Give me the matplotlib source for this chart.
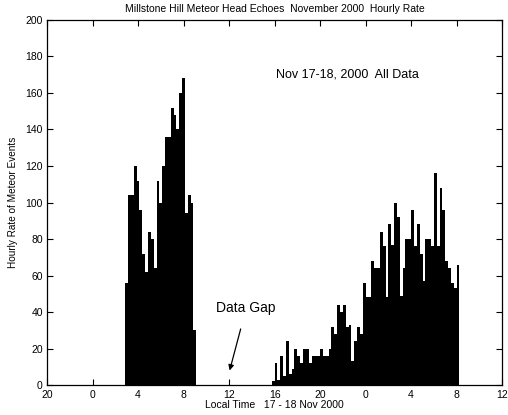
import matplotlib
matplotlib.use("Agg")
import matplotlib.pyplot as plt
import numpy as np

plt.rcParams['font.family'] = ['Liberation Sans', 'DejaVu Sans']

# hours from midnight Nov 17 local time, 15 minute steps
bin_width = 0.25
start_morning = 2.875
rate_morning = [56, 104, 104, 120, 112, 96, 72, 62, 84, 80, 64, 112, 100,
                120, 136, 136, 152, 148, 140, 160, 168, 94, 104, 100, 30]

start_evening = 15.75
rate_evening = [2, 12, 3, 16, 5, 24, 6, 9, 20, 16, 12, 20, 20, 12, 16, 16,
                16, 20, 16, 16, 20, 32, 28, 44, 40, 44, 32, 33, 13, 24, 32,
                28, 56, 48, 48, 68, 64, 64, 84, 76, 48, 88, 77, 100, 92, 49,
                64, 80, 80, 96, 76, 88, 72, 57, 80, 80, 76, 116, 76, 108, 96,
                68, 64, 56, 53, 66]

x_ticks = np.arange(-4, 37, 4)
x_labels = [str(int(h) % 24) for h in x_ticks]

fig = plt.figure(figsize=(5.08, 4.15), dpi=100)
ax = fig.add_axes([0.0925, 0.072, 0.896, 0.88])

t1 = start_morning + bin_width * np.arange(len(rate_morning))
t2 = start_evening + bin_width * np.arange(len(rate_evening))
ax.bar(t1, rate_morning, width=bin_width, align='edge', color='black', linewidth=0)
ax.bar(t2, rate_evening, width=bin_width, align='edge', color='black', linewidth=0)

ax.set_xlim(-4, 36)
ax.set_ylim(0, 200)
ax.set_xticks(x_ticks)
ax.set_xticklabels(x_labels)
ax.set_yticks(np.arange(0, 201, 20))
ax.tick_params(direction='in', top=True, right=True, length=4, width=0.8,
               labelsize=7.5)
ax.tick_params(axis='x', pad=3.5)
ax.tick_params(axis='y', pad=3)
for s in ax.spines.values():
    s.set_linewidth(0.9)

ax.set_title("Millstone Hill Meteor Head Echoes  November 2000  Hourly Rate",
             fontsize=7.5, pad=6)
ax.set_xlabel("Local Time   17 - 18 Nov 2000", fontsize=7.5, labelpad=0)
ax.set_ylabel("Hourly Rate of Meteor Events", fontsize=7.2)
ax.yaxis.set_label_coords(-0.064, 0.5)

ax.text(22.4, 170, "Nov 17-18, 2000  All Data", fontsize=9, ha='center', va='center')
ax.annotate("Data Gap", xy=(12.05, 8), xytext=(13.5, 42), fontsize=10,
            ha='center', va='center',
            arrowprops=dict(arrowstyle='-|>', color='black', lw=0.9,
                            shrinkA=8, shrinkB=0, mutation_scale=8))

fig.savefig("out.png", dpi=100)
